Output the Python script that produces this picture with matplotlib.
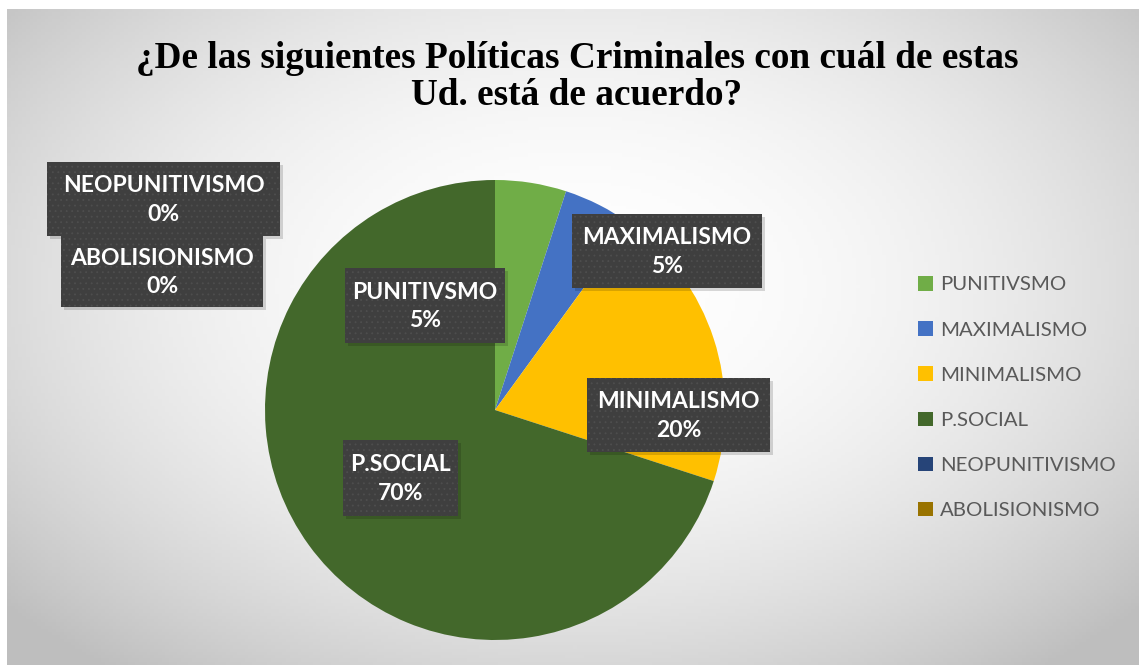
import numpy as np
import matplotlib
matplotlib.use("Agg")
import matplotlib.pyplot as plt
from matplotlib.patches import Rectangle, Patch

categories = ["PUNITIVSMO", "MAXIMALISMO", "MINIMALISMO", "P.SOCIAL", "NEOPUNITIVISMO", "ABOLISIONISMO"]
values = [5, 5, 20, 70, 0, 0]
colors = ["#70AD47", "#4472C4", "#FFC000", "#43682B", "#264478", "#997300"]
title = "¿De las siguientes Políticas Criminales con cuál de estas\nUd. está de acuerdo?"

plt.rcParams["hatch.linewidth"] = 0.6

W, H = 1139, 665
fig = plt.figure(figsize=(W / 100, H / 100), dpi=100)
fig.patch.set_facecolor("white")

def fx(px):
    return px / W

def fy(py):
    return 1 - py / H

# background gradient
bg = fig.add_axes([fx(7), 0, 1 - fx(7), 1 - 9 / H])
bg.set_axis_off()
yy, xx = np.mgrid[0:200, 0:300]
cx, cy = 0.50 * 300, 0.42 * 200
r2 = ((xx - cx) / 150.0) ** 2 + ((yy - cy) / 110.0) ** 2
val = np.clip(255 - 36 * r2, 190, 255) / 255.0
img = np.dstack([val, val, val])
bg.imshow(img, aspect="auto", extent=[0, 1, 0, 1], origin="upper")
bg.set_xlim(0, 1)
bg.set_ylim(0, 1)

# pie
cxp, cyp, R = 495, 410, 230
ax = fig.add_axes([fx(cxp - R), fy(cyp + R), 2 * R / W, 2 * R / H])
ax.set_axis_off()
ax.pie(values, colors=colors, startangle=90, counterclock=False, radius=1.0,
       wedgeprops=dict(linewidth=0))
ax.set_xlim(-1, 1)
ax.set_ylim(-1, 1)

# title
fig.text(fx(577), fy(77), title, ha="center", va="center", fontsize=26.8,
         fontweight="bold", family="Liberation Serif", linespacing=1.05, color="black")

# data labels (boxes in pixel coords: x0, y0, x1, y1)
label_boxes = [
    (345, 268, 505, 343),
    (572, 214, 762, 288),
    (587, 378, 770, 452),
    (343, 440, 458, 516),
    (47, 162, 280, 236),
    (61, 236, 263, 307),
]
for (x0, y0, x1, y1), cat, v in zip(label_boxes, categories, values):
    fig.patches.append(Rectangle((fx(x0 + 3), fy(y1 + 3)), fx(x1 - x0), (y1 - y0) / H,
                                 transform=fig.transFigure, facecolor="#000000", alpha=0.15,
                                 edgecolor="none", zorder=5))
    fig.patches.append(Rectangle((fx(x0), fy(y1)), fx(x1 - x0), (y1 - y0) / H,
                                 transform=fig.transFigure, facecolor="#3F3F3F",
                                 edgecolor="#4E4E4E", linewidth=0, hatch="...", zorder=6))
    fig.text(fx((x0 + x1) / 2), fy((y0 + y1) / 2 + 1), f"{cat}\n{v}%", ha="center", va="center",
             fontsize=16.5, fontweight="bold", family="Lato", color="white",
             linespacing=1.42, zorder=7)

# legend
handles = [Patch(facecolor=c, edgecolor="none") for c in colors]
leg = fig.legend(handles, categories, loc="upper left", bbox_to_anchor=(fx(918), fy(276)),
                 frameon=False, fontsize=14.7, labelspacing=1.36, handlelength=0.72,
                 handleheight=0.72, handletextpad=0.35, borderaxespad=0, borderpad=0)
for t in leg.get_texts():
    t.set_color("#595959")
    t.set_family("Lato")

fig.savefig("out.png", dpi=100)
